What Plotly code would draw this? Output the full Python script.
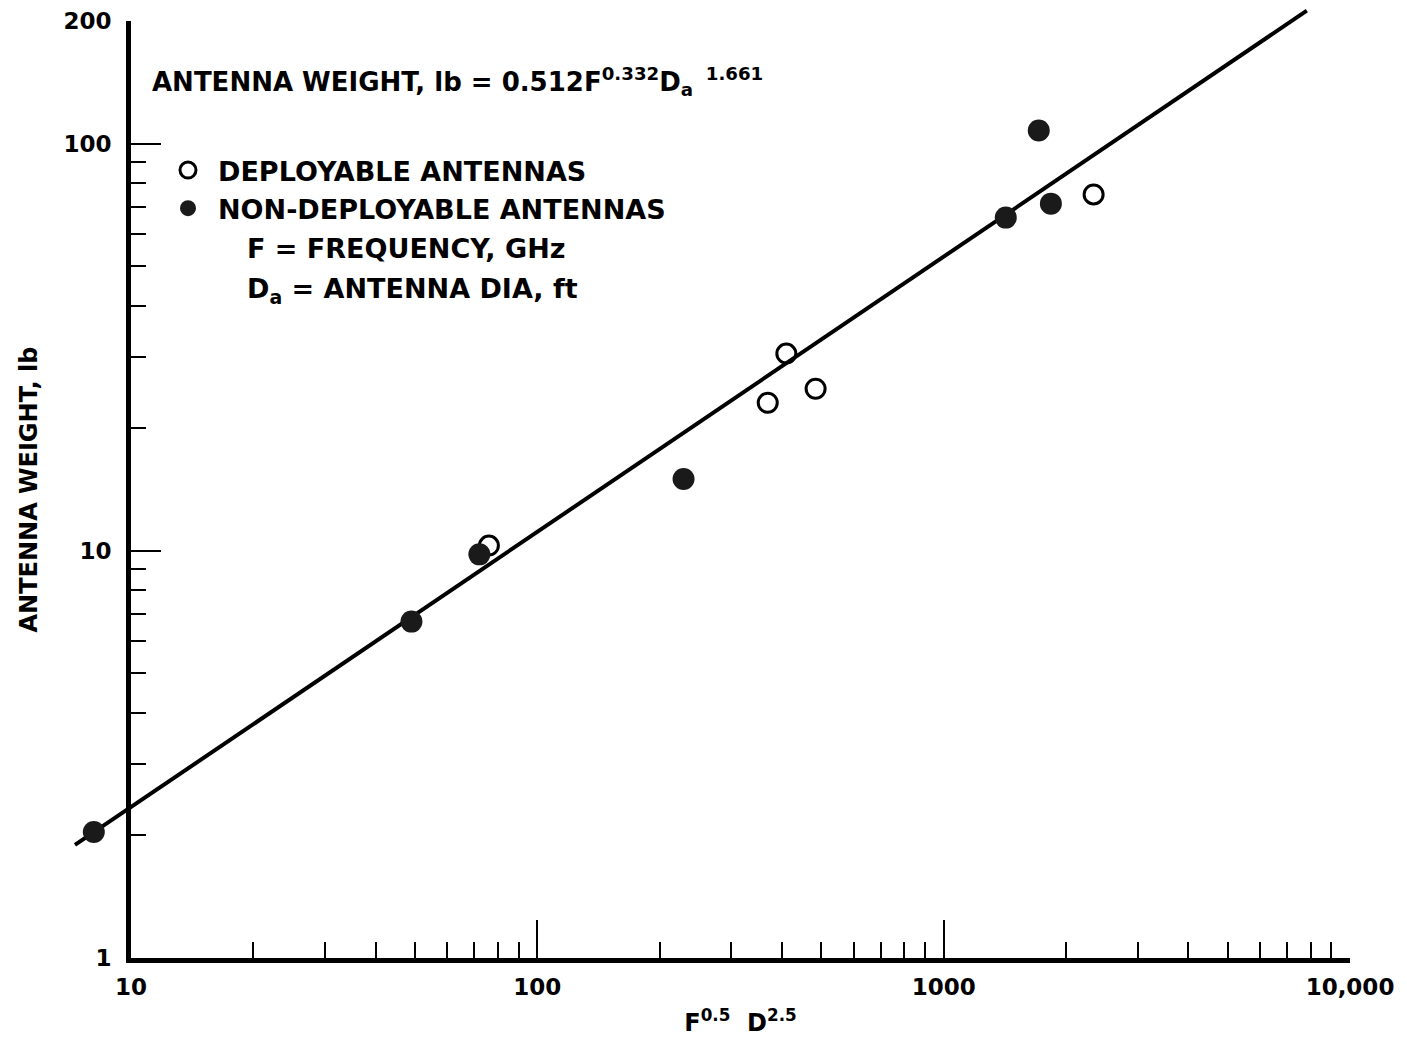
import math
import plotly.graph_objects as go

# ---- data ---------------------------------------------------------------
# x: F^0.5 * D^2.5, y: antenna weight (lb)
deployable_x = [76, 369, 410, 484, 2339]
deployable_y = [10.3, 23.1, 30.5, 25.0, 75.0]

nondeployable_x = [8.1, 49, 72, 229, 1422, 1714, 1836]
nondeployable_y = [2.04, 6.7, 9.8, 15.0, 65.8, 107.7, 71.2]

# straight-line fit on log-log axes (end points)
fit_x = [7.28, 7830]
fit_y = [1.895, 212.0]

x_tickvals = [10, 100, 1000, 10000]
x_ticktext = ["10", "100", "1000", "10,000"]
x_minor = [v * m for m in (10, 100, 1000) for v in range(2, 10)]

y_tickvals = [1, 10, 100, 200]
y_ticktext = ["1", "10", "100", "200"]
y_minor = [v * m for m in (1, 10) for v in range(2, 10)]

# ---- layout geometry (pixels) ---------------------------------------------
W, H = 1407, 1040
ML, MR, MT, MB = 40, 20, 0, 40
PW, PH = W - ML - MR, H - MT - MB
AX_L, AX_R, AX_B, AX_T = 131, 1350, 958, 21      # plot-area edges

x_lo, x_hi = 1.0, 4.0
y_lo, y_hi = 0.0, math.log10(200)
ppd_x = (AX_R - AX_L) / (x_hi - x_lo)
ppd_y = (AX_B - AX_T) / (y_hi - y_lo)


def px(xp):
    return (xp - ML) / PW


def py(yp):
    return (H - MB - yp) / PH


FAMILY = "DejaVu Sans, Verdana, sans-serif"
BLACK = "#000000"


def bold(size):
    return dict(family=FAMILY, size=size, color=BLACK, weight="bold")


fig = go.Figure()

# empty trace that anchors the visible axes
fig.add_trace(go.Scatter(x=[], y=[], xaxis="x", yaxis="y", showlegend=False))

# data drawn on a full-page overlay with the same log scale, so marks may
# run past the axis lines
fig.add_trace(go.Scatter(
    x=fit_x, y=fit_y, mode="lines", xaxis="x2", yaxis="y2",
    line=dict(color=BLACK, width=4), showlegend=False, hoverinfo="skip"))

fig.add_trace(go.Scatter(
    x=deployable_x, y=deployable_y, mode="markers", xaxis="x2", yaxis="y2",
    name="DEPLOYABLE ANTENNAS",
    marker=dict(symbol="circle-open", size=19, color=BLACK,
                line=dict(width=3, color=BLACK))))

fig.add_trace(go.Scatter(
    x=nondeployable_x, y=nondeployable_y, mode="markers", xaxis="x2", yaxis="y2",
    name="NON-DEPLOYABLE ANTENNAS",
    marker=dict(symbol="circle", size=22, color="#1a1a1a",
                line=dict(width=0))))

axis_common = dict(showgrid=False, zeroline=False, color=BLACK,
                   showline=True, linecolor=BLACK, linewidth=5,
                   ticks="inside", tickcolor=BLACK, tickwidth=2,
                   tickfont=bold(23))

fig.update_layout(
    width=W, height=H,
    margin=dict(l=ML, r=MR, t=MT, b=MB, autoexpand=False),
    paper_bgcolor="white", plot_bgcolor="rgba(0,0,0,0)",
    font=bold(24),
    showlegend=True,
    legend=dict(x=px(158), y=py(146), xanchor="left", yanchor="top",
                bgcolor="rgba(0,0,0,0)", borderwidth=0,
                font=bold(27), itemwidth=50,
                itemsizing="trace"),
    xaxis=dict(type="log", range=[x_lo, x_hi],
               domain=[px(AX_L), px(AX_R)], anchor="y",
               tickvals=x_tickvals, ticktext=x_ticktext, ticklen=38,
               ticklabelstandoff=4,
               minor=dict(tickvals=x_minor, ticks="inside", ticklen=16,
                          tickwidth=2, tickcolor=BLACK, showgrid=False),
               title=dict(text="F<sup>0.5</sup>&nbsp; D<sup>2.5</sup>",
                          font=bold(24), standoff=17),
               **axis_common),
    yaxis=dict(type="log", range=[y_lo, y_hi],
               domain=[py(AX_B), py(AX_T)], anchor="x",
               tickvals=y_tickvals, ticktext=y_ticktext, ticklen=30,
               ticklabelstandoff=10,
               minor=dict(tickvals=y_minor, ticks="inside", ticklen=15,
                          tickwidth=2, tickcolor=BLACK, showgrid=False),
               title=dict(text="ANTENNA WEIGHT, lb",
                          font=bold(24), standoff=20),
               **axis_common),
    xaxis2=dict(type="log", domain=[0, 1], anchor="y2", visible=False,
                range=[x_lo - (AX_L - ML) / ppd_x,
                       x_hi + (W - MR - AX_R) / ppd_x]),
    yaxis2=dict(type="log", domain=[0, 1], anchor="x2", visible=False,
                range=[y_lo - (H - MB - AX_B) / ppd_y,
                       y_hi + (AX_T - MT) / ppd_y]),
)

notes = [
    (150, 82, 26,
     "ANTENNA WEIGHT, lb = 0.512F<sup>0.332</sup>D<sub>a</sub>"
     "<sup>&nbsp;&nbsp;1.661</sup>"),
    (245, 248, 27, "F = FREQUENCY, GHz"),
    (245, 290, 27, "D<sub>a</sub> = ANTENNA DIA, ft"),
]
for xp, yp, size, txt in notes:
    fig.add_annotation(x=px(xp), y=py(yp), xref="paper", yref="paper",
                       xanchor="left", yanchor="middle", showarrow=False,
                       text=txt, font=bold(size))

fig.write_html("out.html")
